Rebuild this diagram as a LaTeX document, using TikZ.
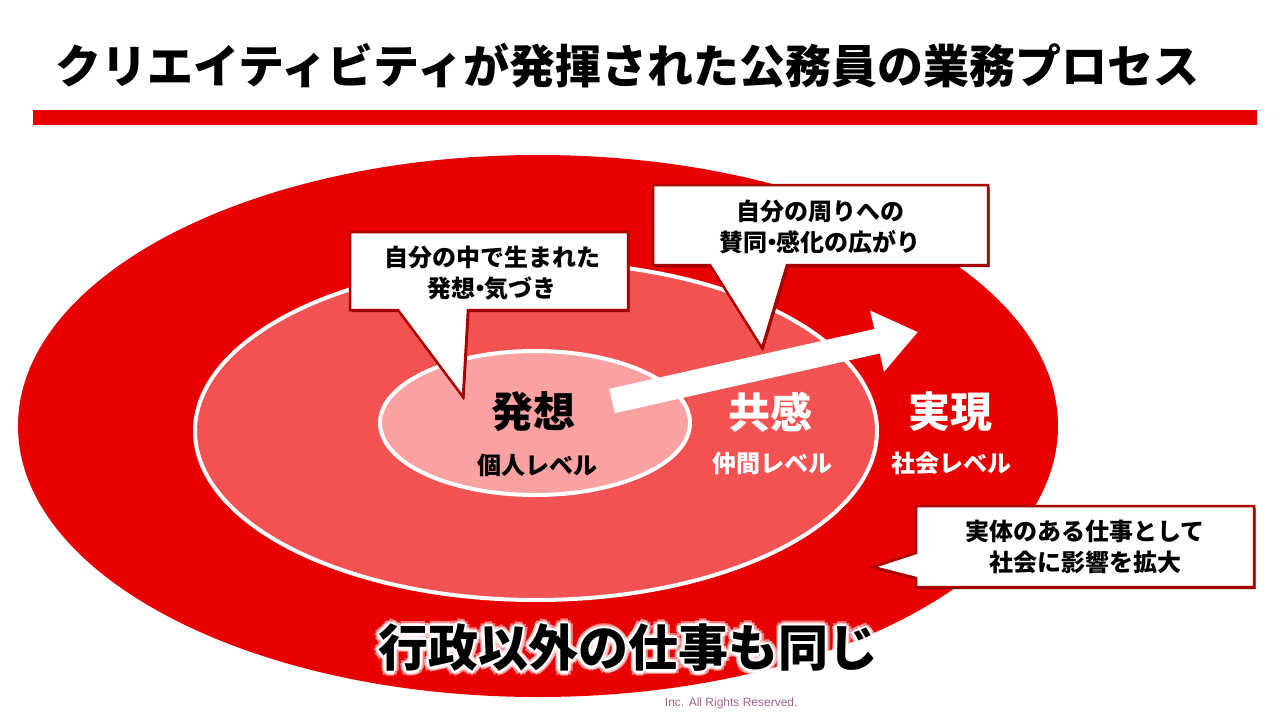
\documentclass[tikz,border=0pt]{standalone}
\usepackage{fontspec}
\setmainfont{Noto Sans CJK JP}
\newfontfamily\latinfont{Liberation Sans}
\usetikzlibrary{arrows.meta,shadows}
\definecolor{redout}{RGB}{232,0,0}
\definecolor{redmid}{RGB}{242,82,82}
\definecolor{redin}{RGB}{250,162,162}
\definecolor{calloutred}{RGB}{170,0,0}
\definecolor{rightsgray}{RGB}{160,100,140}
\newcommand\nakadot{\kern-.3em・\kern-.3em}

\begin{document}
\begin{tikzpicture}[x=1pt,y=-1pt,
    ring/.style={draw=white,line width=4pt},
    callbox/.style={draw=calloutred,line width=2.5pt,fill=white,line join=miter,
      drop shadow={shadow xshift=1.5pt,shadow yshift=-2pt,fill=calloutred!75!black,opacity=1}},
    calltext/.style={align=center,font=\fontsize{24}{31}\selectfont\bfseries},
    keyword/.style={font=\fontsize{42}{46}\selectfont\bfseries},
    level/.style={font=\fontsize{24}{28}\selectfont\bfseries},
    bigline/.style={font=\fontsize{50}{54}\selectfont\bfseries},
    bigarrow/.style={white,line width=25pt,-{Triangle[width=60pt,length=42pt]}}]
  \fill[white] (0,0) rectangle (1280,720);
  \useasboundingbox (0,0) rectangle (1280,720);

  % title and bar
  \node[anchor=west,font=\fontsize{46}{50}\selectfont\bfseries] (title) at (52,66)
    {クリエイティビティが発揮された公務員の業務プロセス};
  \fill[redout] (33,110) rectangle (1257,125);

  \node[anchor=east,font=\latinfont\fontsize{12}{14}\selectfont,text=rightsgray] (rights)
    at (801,703) {Inc. All Rights Reserved.};

  % three levels
  \fill[redout] (538,426) ellipse [x radius=520pt,y radius=271pt];
  \filldraw[ring,fill=redmid] (536,431) ellipse [x radius=341pt,y radius=169pt];
  \filldraw[ring,fill=redin] (535,423) ellipse [x radius=155pt,y radius=72pt];

  \node[keyword] (idea) at (533,412) {発想};
  \node[level] (idealevel) at (537,465) {個人レベル};
  \node[keyword,white] (empathy) at (770,412) {共感};
  \node[level,white] (empathylevel) at (772,463) {仲間レベル};
  \node[keyword,white] (realize) at (950,412) {実現};
  \node[level,white] (realizelevel) at (951,463) {社会レベル};

  \coordinate (arrowbase) at (612,401);
  \coordinate (arrowtip) at (918,332);
  \draw[bigarrow] (arrowbase) -- (arrowtip);

  % callouts
  \draw[callbox] (350,232) -- (628,232) -- (628,310) -- (468,310) -- (463,397)
    -- (398,310) -- (350,310) -- cycle;
  \node[calltext] (ideanote) at (492,273) {自分の中で生まれた\\発想\nakadot 気づき};

  \draw[callbox] (653,185) -- (988,185) -- (988,265) -- (787,265) -- (762,348)
    -- (710,265) -- (653,265) -- cycle;
  \node[calltext] (empathynote) at (820,227) {自分の周りへの\\賛同\nakadot 感化の広がり};

  \draw[callbox] (916,506) -- (1254,506) -- (1254,587) -- (916,587) -- (916,578)
    -- (873,567) -- (916,553) -- cycle;
  \node[calltext] (realizenote) at (1085,547) {実体のある仕事として\\社会に影響を拡大};

  % bottom message with white glow
  \coordinate (same) at (628,648);
  \foreach \ang in {0,45,...,315}
    \node[bigline,text=white,opacity=.5] at ([shift={(\ang:5)}]same) {行政以外の仕事も同じ};
  \foreach \ang in {0,45,...,315}
    \node[bigline,text=white] at ([shift={(\ang:2.5)}]same) {行政以外の仕事も同じ};
  \node[bigline] (samenote) at (same) {行政以外の仕事も同じ};
\end{tikzpicture}
\end{document}
